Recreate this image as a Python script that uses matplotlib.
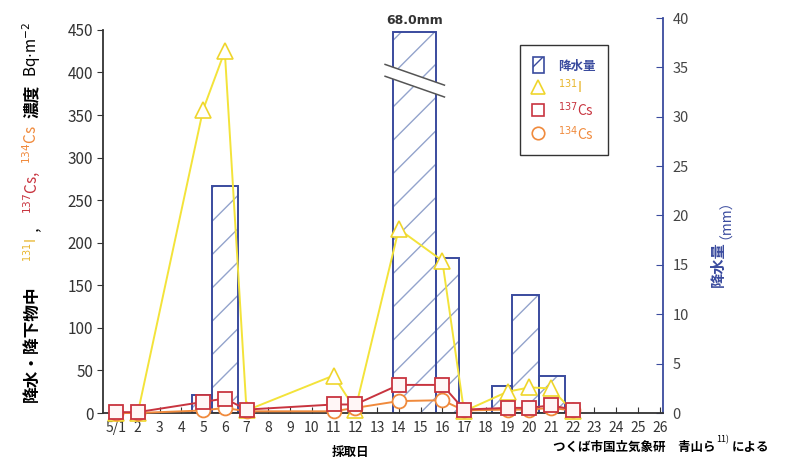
import matplotlib
matplotlib.use("Agg")
import matplotlib.pyplot as plt
from matplotlib.patches import Patch, Polygon
from matplotlib.lines import Line2D

plt.rcParams['font.family'] = ['Noto Sans CJK JP', 'DejaVu Sans']
plt.rcParams['hatch.linewidth'] = 1.0

# 採取日 (5月の日)
days = [1, 2, 5, 6, 7, 11, 12, 14, 16, 17, 19, 20, 21, 22]
i131 = [0, 0, 356, 425, 3, 44, 4, 216, 179, 2, 25, 30, 29, 2]
cs137 = [1, 1, 13, 17, 4, 10, 10, 33, 33, 4, 6, 6, 9, 4]
cs134 = [0, 0, 3, 6, 2, 2, 6, 14, 15, 3, 4, 4, 6, 3]

# 降水量 (期間の始まり/終わり, mm)
rain_start = [4.5, 5.4, 13.75, 15.7, 18.3, 19.2, 20.45]
rain_end = [5.4, 6.6, 15.7, 16.75, 19.2, 20.45, 21.65]
rain_mm = [1.8, 23.0, 68.0, 15.7, 2.7, 12.0, 3.7]
rain_cap = 38.6   # 図の上で切った棒の高さ

xtick_days = list(range(1, 27))
xtick_labels = ['5/1'] + [str(d) for d in xtick_days[1:]]

yellow = '#f3e33a'
yellow_txt = '#e8b52a'
red = '#c8343f'
orange = '#f08a3c'
blue = '#3a4b9e'
hatch_col = '#93a3cc'
dark = '#333333'

W, H = 792, 461
fig = plt.figure(figsize=(W / 100, H / 100), dpi=100)
ax = fig.add_axes([103 / W, 48 / H, 560 / W, 395 / H])
ax2 = ax.twinx()
ax.set_zorder(ax2.get_zorder() + 1)
ax.patch.set_visible(False)

# 降水量の棒
widths = [e - s for s, e in zip(rain_start, rain_end)]
heights = [min(v, rain_cap) for v in rain_mm]
ax2.bar(rain_start, heights, widths, align='edge', facecolor='white',
        edgecolor=hatch_col, hatch='/', linewidth=0, zorder=1)
ax2.bar(rain_start, heights, widths, align='edge', fill=False,
        edgecolor=blue, linewidth=1.4, zorder=2)

# 68.0mm の棒の省略記号
for s, e, v, h in zip(rain_start, rain_end, rain_mm, heights):
    if v > h:
        x0, x1 = s - 0.38, e + 0.4
        ya, yb = h - 3.3, h - 5.4
        gap = 1.2
        ax2.add_patch(Polygon([(x0, ya), (x1, yb), (x1, yb - gap), (x0, ya - gap)],
                              closed=True, facecolor='white', edgecolor='none',
                              zorder=3, clip_on=False))
        ax2.plot([x0, x1], [ya, yb], color='#555555', lw=1.1, zorder=4, clip_on=False)
        ax2.plot([x0, x1], [ya - gap, yb - gap], color='#555555', lw=1.1, zorder=4,
                 clip_on=False)
        ax2.text((s + e) / 2, h + 0.45, f'{v:.1f}mm', ha='center', va='bottom',
                 fontsize=9, fontweight='bold', color=dark, family='DejaVu Sans')

# 濃度の線
ax.plot(days, i131, color=yellow, lw=1.4, marker='^', ms=11, mfc='white',
        mec='#efd52c', mew=1.2, clip_on=False, zorder=3)
ax.plot(days, cs134, color=orange, lw=1.4, marker='o', ms=10, mfc='white',
        mec=orange, mew=1.3, clip_on=False, zorder=4)
ax.plot(days, cs137, color=red, lw=1.4, marker='s', ms=10.5, mfc='#fff6f6',
        mec=red, mew=1.3, clip_on=False, zorder=5)

ax.set_xlim(0.4, 26.15)
ax.set_ylim(0, 464)
ax2.set_ylim(0, 40)

ax.set_xticks(xtick_days)
ax.set_xticklabels(xtick_labels)
ax.set_yticks(range(0, 451, 50))
ax2.set_yticks(range(0, 41, 5))

ax.tick_params(axis='x', direction='in', length=4, pad=6, labelsize=10,
               colors=dark)
ax.tick_params(axis='y', direction='out', length=4, pad=3, labelsize=11,
               colors=dark)
ax2.tick_params(axis='y', direction='in', length=5, pad=7, labelsize=10.5,
                color=blue, labelcolor='#444444')

for sp in ['top', 'right']:
    ax.spines[sp].set_visible(False)
for sp in ['top', 'left', 'bottom']:
    ax2.spines[sp].set_visible(False)
ax.spines['left'].set_bounds(0, 450)
ax.spines['left'].set_color(dark)
ax.spines['left'].set_linewidth(1.3)
ax.spines['bottom'].set_color(dark)
ax.spines['bottom'].set_linewidth(1.3)
ax2.spines['right'].set_color(blue)
ax2.spines['right'].set_linewidth(1.3)

# 凡例
handles = [
    Patch(facecolor='white', edgecolor=blue, hatch='/', linewidth=1.2),
    Line2D([], [], ls='none', marker='^', ms=10, mfc='white', mec='#efd52c', mew=1.2),
    Line2D([], [], ls='none', marker='s', ms=9, mfc='white', mec=red, mew=1.2),
    Line2D([], [], ls='none', marker='o', ms=9, mfc='white', mec=orange, mew=1.2),
]
labels = ['降水量', r'$^{131}$I', r'$^{137}$Cs', r'$^{134}$Cs']
leg = ax.legend(handles, labels, loc='upper left', bbox_to_anchor=(0.745, 0.932),
                borderaxespad=0, fontsize=10, handlelength=0.8, handleheight=1.4,
                labelspacing=0.3, handletextpad=1.0, borderpad=0.9,
                fancybox=False, edgecolor=dark, framealpha=1)
leg.get_frame().set_linewidth(1.0)
for t, c in zip(leg.get_texts(), [blue, yellow_txt, red, orange]):
    t.set_color(c)
leg.get_texts()[0].set_fontweight('bold')
leg.get_texts()[0].set_fontsize(9)

# 軸ラベル (色分けした文字を並べる)
renderer = fig.canvas.get_renderer()


def stack_text(pieces, x, y, vertical):
    pos = y if vertical else x
    for s, color, size, weight, gap, lift in pieces:
        pos += gap
        if vertical:
            t = fig.text((x - lift) / W, pos / H, s, rotation=90, rotation_mode='anchor',
                         ha='left', va='baseline', color=color, fontsize=size,
                         fontweight=weight)
            pos += t.get_window_extent(renderer).height
        else:
            t = fig.text(pos / W, (y + lift) / H, s, ha='left', va='baseline',
                         color=color, fontsize=size, fontweight=weight)
            pos += t.get_window_extent(renderer).width


stack_text([
    ('降水・降下物中', 'black', 12, 'bold', 0, 0),
    (r'$^{131}$I', yellow_txt, 10, 'normal', 24, 0),
    ('，', 'black', 10, 'normal', 6, 0),
    (r'$^{137}$Cs,', red, 11, 'normal', 4, 0),
    (r'$^{134}$Cs', orange, 11, 'normal', 7, 0),
    ('濃度', 'black', 12, 'bold', 6, 0),
    (r'Bq$\cdot$m$^{-2}$', 'black', 11, 'normal', 8, 0),
], 37, 461 - 402, True)

stack_text([
    ('降水量', blue, 11, 'bold', 0, 0),
    ('（mm）', blue, 10, 'normal', 2, 0),
], 723, 461 - 287, True)

fig.text(350 / W, (461 - 452) / H, '採取日', ha='center', va='center',
         fontsize=9, fontweight='bold', color='black')

stack_text([
    ('つくば市国立気象研　青山ら', 'black', 9, 'bold', 0, 0),
    ('11)', 'black', 6.5, 'normal', 1, 9),
    ('による', 'black', 9, 'bold', 2, 0),
], 553, 461 - 451, False)

fig.savefig('out.png', dpi=100)
